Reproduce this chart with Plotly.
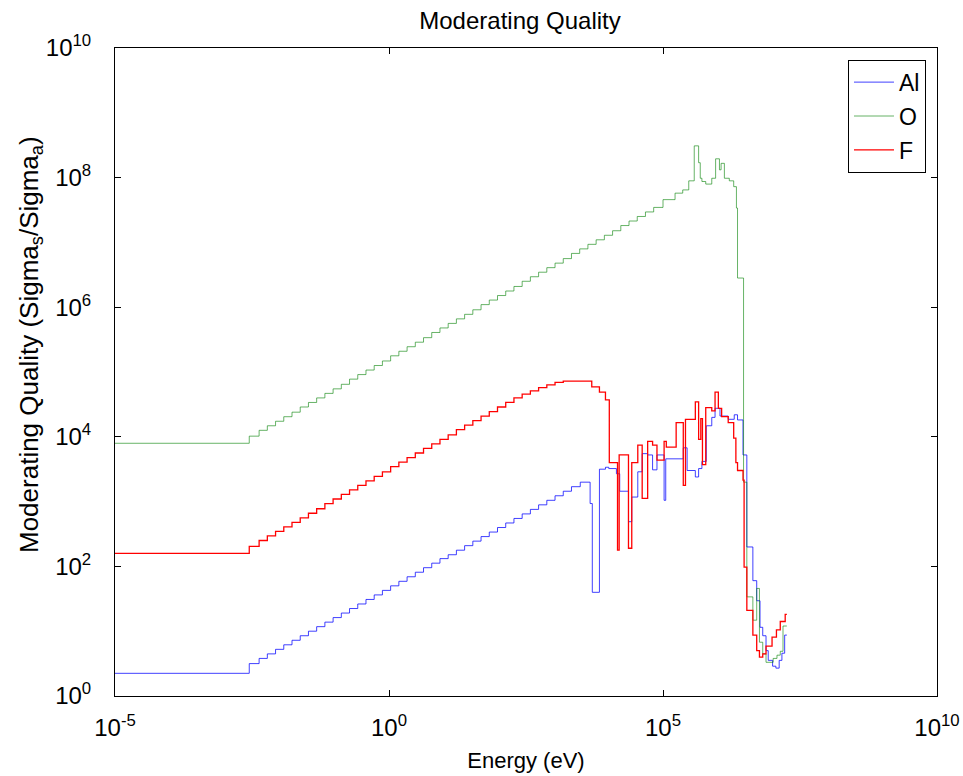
import numpy as np
import plotly.graph_objects as go

# ---- data (energies as log10(eV), quality as log10) ----
# shared group-structure steps in the smooth 1/v region
log_energy_groups = [-2.55, -2.37, -2.22, -2.07, -1.92, -1.77, -1.62, -1.47, -1.32, -1.17,
                     -1.02, -0.87, -0.72, -0.57, -0.42, -0.27, -0.12, 0.03, 0.18, 0.33,
                     0.48, 0.63, 0.78, 0.93, 1.08, 1.23, 1.38, 1.53, 1.68, 1.83,
                     1.98, 2.13, 2.28, 2.43, 2.58, 2.73, 2.88, 3.03, 3.18, 3.33]

al_thermal = 0.35
al_groups = [0.50, 0.58, 0.65, 0.72, 0.79, 0.86, 0.93, 1.00, 1.07, 1.14,
             1.21, 1.28, 1.35, 1.42, 1.49, 1.56, 1.63, 1.70, 1.77, 1.84,
             1.91, 1.98, 2.05, 2.12, 2.18, 2.25, 2.32, 2.39, 2.46, 2.53,
             2.60, 2.67, 2.74, 2.81, 2.88, 2.95, 3.02, 3.09, 3.16, 3.23]
al_res_energy = [3.49, 3.67, 3.71, 3.84, 3.95, 4.01, 4.15, 4.21, 4.37, 4.43,
                 4.54, 4.62, 4.72, 4.81, 4.89, 5.02, 5.05, 5.37, 5.44, 5.59,
                 5.65, 5.71, 5.79, 5.89, 5.95, 6.04, 6.19, 6.30, 6.36, 6.46,
                 6.53, 6.64, 6.71, 6.77, 6.82, 6.88, 6.92, 7.00, 7.06, 7.12,
                 7.17, 7.22, 7.26]
al_res_quality = [3.30, 2.97, 1.60, 3.50, 3.53, 3.51, 3.43, 3.16, 2.69, 3.07,
                  3.46, 3.74, 3.72, 3.49, 3.72, 3.02, 3.66, 3.83, 3.48, 3.38,
                  3.51, 3.62, 4.17, 4.30, 4.44, 4.32, 4.27, 4.34, 4.26, 3.72,
                  2.30, 1.78, 1.47, 1.06, 0.93, 0.70, 0.55, 0.46, 0.43, 0.55,
                  0.66, 0.94, 0.94]

o_thermal = 3.90
o_groups = [4.01, 4.10, 4.17, 4.24, 4.31, 4.38, 4.46, 4.53, 4.60, 4.67,
            4.74, 4.81, 4.89, 4.96, 5.03, 5.10, 5.17, 5.25, 5.32, 5.39,
            5.46, 5.53, 5.61, 5.68, 5.75, 5.82, 5.89, 5.96, 6.04, 6.11,
            6.18, 6.25, 6.32, 6.40, 6.47, 6.54, 6.61, 6.68, 6.75, 6.83]
o_res_energy = [3.48, 3.63, 3.78, 3.93, 4.08, 4.23, 4.38, 4.53, 4.68, 4.83,
                5.00, 5.22, 5.36, 5.47, 5.57, 5.65, 5.68, 5.71, 5.78, 5.89,
                5.96, 6.03, 6.06, 6.12, 6.21, 6.29, 6.34, 6.36, 6.47, 6.53,
                6.64, 6.71, 6.76, 6.82, 6.88, 7.01, 7.08, 7.14, 7.19, 7.26]
o_res_quality = [6.90, 6.97, 7.04, 7.11, 7.18, 7.26, 7.33, 7.40, 7.47, 7.54,
                 7.66, 7.76, 7.81, 7.95, 8.49, 8.23, 7.99, 7.94, 7.90, 7.99,
                 8.29, 8.12, 8.22, 7.99, 7.95, 7.86, 7.53, 6.45, 3.30, 1.53,
                 1.17, 1.66, 0.83, 0.65, 0.52, 0.58, 0.63, 0.69, 1.08, 1.08]

f_thermal = 2.20
f_groups = [2.31, 2.40, 2.47, 2.54, 2.61, 2.68, 2.75, 2.82, 2.89, 2.97,
            3.04, 3.11, 3.18, 3.25, 3.32, 3.39, 3.46, 3.54, 3.61, 3.68,
            3.75, 3.82, 3.89, 3.96, 4.03, 4.11, 4.18, 4.25, 4.32, 4.39,
            4.46, 4.53, 4.60, 4.66, 4.71, 4.76, 4.80, 4.84, 4.86, 4.86]
f_res_energy = [3.70, 3.84, 3.95, 4.02, 4.17, 4.20, 4.37, 4.43, 4.54, 4.62,
                4.72, 4.81, 4.89, 5.02, 5.06, 5.24, 5.37, 5.41, 5.59, 5.65,
                5.69, 5.72, 5.78, 5.89, 5.95, 6.01, 6.07, 6.19, 6.29, 6.33,
                6.36, 6.46, 6.48, 6.53, 6.64, 6.71, 6.76, 6.82, 6.88, 6.99,
                7.07, 7.14, 7.23, 7.26]
f_res_quality = [4.77, 4.69, 4.57, 3.60, 2.25, 3.72, 2.28, 3.60, 3.87, 3.05,
                 3.93, 3.87, 3.64, 3.93, 3.84, 4.22, 3.25, 4.27, 4.54, 3.96,
                 4.28, 3.57, 4.45, 4.40, 4.69, 4.44, 4.31, 4.22, 3.98, 3.60,
                 3.48, 3.33, 1.99, 1.32, 0.94, 0.70, 0.60, 0.65, 0.77, 0.91,
                 1.02, 1.15, 1.26, 1.26]

series_names = ["Al", "O", "F"]
series_colors = ["rgba(0,0,255,0.75)", "rgba(0,128,0,0.6)", "#FF0000"]
series_widths = [1.0, 1.0, 1.3]
e_min_log = -5.0

def build(thermal, groups, res_e, res_q):
    le = [e_min_log] + log_energy_groups + res_e
    lq = [thermal] + groups + res_q
    return np.power(10.0, le), np.power(10.0, lq)

data = [build(al_thermal, al_groups, al_res_energy, al_res_quality),
        build(o_thermal, o_groups, o_res_energy, o_res_quality),
        build(f_thermal, f_groups, f_res_energy, f_res_quality)]

fig = go.Figure()
for (x, y), name, col, w in zip(data, series_names, series_colors, series_widths):
    fig.add_trace(go.Scatter(
        x=x, y=y, mode="lines", name=name, legendgroup=name,
        line=dict(color=col, width=w, shape="hv"),
    ))

font_family = "Liberation Sans, Arial, sans-serif"
xtick_vals = [1e-5, 1e0, 1e5, 1e10]
xtick_text = ["10<sup>-5</sup>", "10<sup>0</sup>", "10<sup>5</sup>", "10<sup>10</sup>"]
ytick_vals = [1e0, 1e2, 1e4, 1e6, 1e8, 1e10]
ytick_text = ["10<sup>0</sup>", "10<sup>2</sup>", "10<sup>4</sup>", "10<sup>6</sup>",
              "10<sup>8</sup>", "10<sup>10</sup>"]

W, H = 963, 776
ML, MR, MT, MB = 115, 26, 48, 80

fig.update_layout(
    width=W, height=H,
    margin=dict(l=ML, r=MR, t=MT, b=MB, autoexpand=False),
    paper_bgcolor="white", plot_bgcolor="white",
    font=dict(family=font_family, size=22, color="black"),
    title=dict(text="Moderating Quality", x=520 / W, xanchor="center",
               y=1 - 21 / H, yanchor="middle", yref="container",
               font=dict(size=24)),
    xaxis=dict(type="log", range=[-5, 10], tickvals=xtick_vals, ticktext=xtick_text,
               ticks="inside", ticklen=6, tickcolor="black", showline=True,
               linecolor="black", linewidth=1, mirror="ticks", showgrid=False,
               zeroline=False, tickfont=dict(size=24), automargin=False,
               ticklabelstandoff=10,
               title=dict(text="Energy (eV)", standoff=12, font=dict(size=22))),
    yaxis=dict(type="log", range=[0, 10], tickvals=ytick_vals, ticktext=ytick_text,
               ticks="inside", ticklen=6, tickcolor="black", showline=True,
               linecolor="black", linewidth=1, mirror="ticks", showgrid=False,
               zeroline=False, ticklabelstandoff=18, tickfont=dict(size=24),
               automargin=False),
    legend=dict(x=0.9866, y=0.982, xanchor="right", yanchor="top",
                bordercolor="black", borderwidth=1, bgcolor="white",
                font=dict(size=23), tracegroupgap=1, traceorder="grouped",
                itemwidth=40),
    showlegend=True,
    annotations=[dict(
        text="Moderating Quality (Sigma<sub>s</sub>/Sigma<sub>a</sub>)",
        textangle=-90, xref="paper", yref="paper",
        x=(30 - ML) / (W - ML - MR), y=(H - MB - 345) / (H - MT - MB),
        xanchor="center", yanchor="middle", showarrow=False,
        font=dict(size=26),
    )],
)

fig.write_html("out.html")
